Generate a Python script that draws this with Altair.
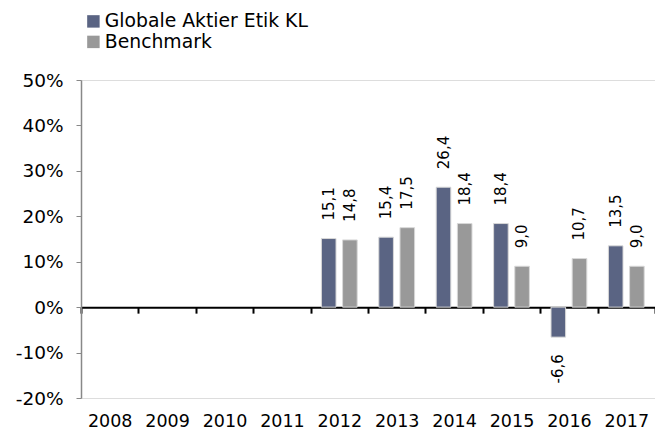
import altair as alt
import pandas as pd

years = ["2008", "2009", "2010", "2011", "2012", "2013", "2014", "2015", "2016", "2017"]
fund = [None, None, None, None, 15.1, 15.4, 26.4, 18.4, -6.6, 13.5]
bench = [None, None, None, None, 14.8, 17.5, 18.4, 9.0, 10.7, 9.0]
series = ["Globale Aktier Etik KL", "Benchmark"]
colors = ["#5A6483", "#999999"]
y_ticks = [-20, -10, 0, 10, 20, 30, 40, 50]

rows = []
for i, y in enumerate(years):
    rows.append({"year": y, "series": series[0], "value": fund[i]})
    rows.append({"year": y, "series": series[1], "value": bench[i]})
df = pd.DataFrame(rows)

W, H = 574, 318
ymin, ymax = -20, 50
zero_off = H * (0 - ymin) / (ymax - ymin)
FONT = "DejaVu Sans"

xscale = alt.Scale(domain=years, paddingInner=0, paddingOuter=0)
xoff = alt.XOffset("series:N", scale=alt.Scale(domain=series, paddingInner=0.31, paddingOuter=0.51))
yscale = alt.Scale(domain=[ymin, ymax], nice=False, zero=False)

base = alt.Chart(df)

bars = base.transform_filter("isValid(datum.value)").mark_bar(
    stroke="#D8D8D8", strokeWidth=1
).encode(
    x=alt.X("year:N", scale=xscale, sort=years, axis=alt.Axis(
        orient="bottom", offset=-zero_off, domainColor="black", domainWidth=2,
        tickColor="black", tickWidth=2, tickSize=6, tickBand="extent",
        labelPadding=zero_off + 8, labelFontSize=17.5, labelColor="black", labelFont=FONT,
        labelAngle=0, title=None, grid=False)),
    xOffset=xoff,
    y=alt.Y("value:Q", scale=yscale, axis=alt.Axis(
        values=y_ticks, labelExpr="datum.value + '%'", domainColor="#888888",
        domainWidth=1.5, tickColor="#888888", tickSize=5, labelPadding=13,
        labelFontSize=18.5, labelColor="black", labelFont=FONT, grid=False, title=None)),
    y2=alt.datum(0),
    color=alt.Color("series:N", scale=alt.Scale(domain=series, range=colors), legend=alt.Legend(
        orient="none", legendX=3, legendY=-68, title=None, symbolType="square",
        symbolSize=155, symbolStrokeWidth=0, labelFontSize=18.8, labelFont=FONT,
        labelColor="black", labelOffset=2, labelLimit=500, rowPadding=0.5, padding=0,
        direction="vertical")),
)

label_calc = "(datum.value < 0 ? '-' : '') + replace(format(abs(datum.value), '.1f'), '.', ',')"

pos_text = base.transform_filter("isValid(datum.value) && datum.value >= 0").transform_calculate(
    lbl=label_calc
).mark_text(angle=270, align="left", baseline="middle", dx=18, fontSize=15, font=FONT, color="black").encode(
    x=alt.X("year:N", scale=xscale, sort=years),
    xOffset=xoff,
    y=alt.Y("value:Q", scale=yscale),
    text="lbl:N",
)

neg_text = base.transform_filter("isValid(datum.value) && datum.value < 0").transform_calculate(
    lbl=label_calc
).mark_text(angle=270, align="right", baseline="middle", dx=-17, fontSize=15, font=FONT, color="black").encode(
    x=alt.X("year:N", scale=xscale, sort=years),
    xOffset=xoff,
    y=alt.Y("value:Q", scale=yscale),
    text="lbl:N",
)

chart = alt.layer(bars, pos_text, neg_text).properties(
    width=W, height=H,
    autosize=alt.AutoSizeParams(type="none"),
    padding={"left": 73, "top": 72, "right": 0, "bottom": 34},
).configure_view(stroke=None).configure(background="white")

chart.save("out.html", embed_options={"renderer": "svg", "actions": False})
